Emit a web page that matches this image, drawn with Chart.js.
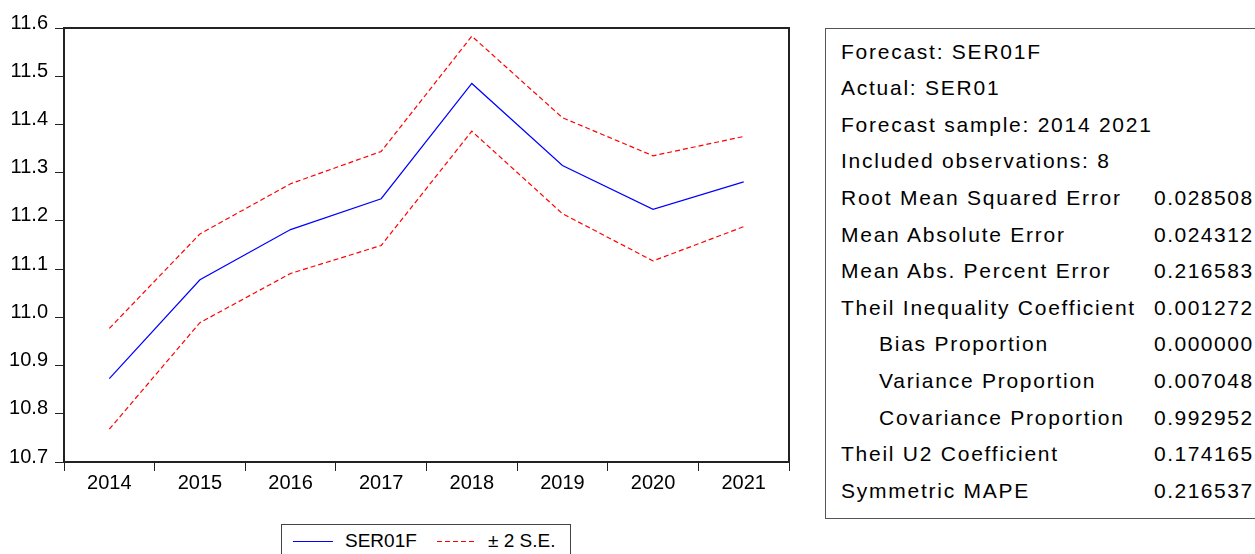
<!DOCTYPE html>
<html>
<head>
<meta charset="utf-8">
<script src="https://cdn.jsdelivr.net/npm/chart.js@4/dist/chart.umd.min.js"></script>
<style>
  html, body { margin: 0; padding: 0; background: #fff; }
  body { width: 1255px; height: 554px; position: relative; overflow: hidden;
         font-family: 'Liberation Sans', Arial, sans-serif; color: #000; }
  #plotWrap { position: absolute; left: 0; top: 0; width: 800px; height: 520px; }
  #legendBox { position: absolute; left: 281px; top: 524px; width: 290px; height: 40px;
               border: 1px solid #444; box-sizing: border-box; font-size: 19px; }
  #legendBox .item { position: absolute; top: 4px; line-height: 24px; }
  #legendBox svg { position: absolute; top: 12px; }
  #statsBox { position: absolute; left: 825px; top: 28px; width: 450px; height: 491px;
              border: 1px solid #555; box-sizing: border-box; font-size: 21px; letter-spacing: 1.75px; }
  #statsBox .row { position: absolute; left: 15px; height: 36.6px; line-height: 36.6px; white-space: nowrap; }
  #statsBox .row.indent { left: 53px; }
  #statsBox .val { position: absolute; left: 328px; height: 36.6px; line-height: 36.6px; letter-spacing: 1.5px; }
</style>
</head>
<body>
<div id="plotWrap"><canvas id="forecastChart" width="800" height="520"></canvas></div>

<div id="legendBox">
  <svg style="left:11px;" width="40" height="8"><line x1="0" y1="4.5" x2="40" y2="4.5" stroke="#0000ff" stroke-width="1"/></svg>
  <span class="item" style="left:63px;">SER01F</span>
  <svg style="left:155px;" width="40" height="8"><line x1="0" y1="4.5" x2="40" y2="4.5" stroke="#ff0000" stroke-width="1" stroke-dasharray="5,3"/></svg>
  <span class="item" style="left:206px;">± 2 S.E.</span>
</div>

<div id="statsBox"></div>

<script>
// Forecast evaluation data
const years = ['2014', '2015', '2016', '2017', '2018', '2019', '2020', '2021'];
const forecast = [10.873, 11.078, 11.182, 11.246, 11.485, 11.315, 11.224, 11.281];
const upperBand = [10.977, 11.173, 11.277, 11.344, 11.583, 11.414, 11.335, 11.375];
const lowerBand = [10.768, 10.989, 11.091, 11.149, 11.386, 11.215, 11.117, 11.188];

const yMin = 10.7;
const yMax = 11.6;
const yStep = 0.1;

// Stats table (label, value, indent)
const statLabels = [
  'Forecast: SER01F',
  'Actual: SER01',
  'Forecast sample: 2014 2021',
  'Included observations: 8',
  'Root Mean Squared Error',
  'Mean Absolute Error',
  'Mean Abs. Percent Error',
  'Theil Inequality Coefficient',
  'Bias Proportion',
  'Variance Proportion',
  'Covariance Proportion',
  'Theil U2 Coefficient',
  'Symmetric MAPE'
];
const statValues = ['', '', '', '', '0.028508', '0.024312', '0.216583', '0.001272',
  '0.000000', '0.007048', '0.992952', '0.174165', '0.216537'];
const statIndented = [8, 9, 10];

// build stats box
const statsBox = document.getElementById('statsBox');
statLabels.forEach((label, i) => {
  const top = 4.5 + i * 36.6;
  const row = document.createElement('div');
  row.className = 'row' + (statIndented.includes(i) ? ' indent' : '');
  row.style.top = top + 'px';
  row.textContent = label;
  statsBox.appendChild(row);
  if (statValues[i]) {
    const v = document.createElement('div');
    v.className = 'val';
    v.style.top = top + 'px';
    v.textContent = statValues[i];
    statsBox.appendChild(v);
  }
});

// box around plot area
const frameBox = {
  id: 'frameBox',
  afterDraw(chart) {
    const { ctx, chartArea: a } = chart;
    ctx.save();
    ctx.strokeStyle = '#222';
    ctx.lineWidth = 2;
    ctx.strokeRect(a.left, a.top, a.right - a.left, a.bottom - a.top);
    ctx.restore();
  }
};

const tickFont = { family: "'Liberation Sans', Arial, sans-serif", size: 20 };

new Chart(document.getElementById('forecastChart').getContext('2d'), {
  type: 'line',
  data: {
    labels: years,
    datasets: [
      {
        label: 'SER01F',
        data: forecast,
        borderColor: '#0000ff',
        borderWidth: 1.2,
        pointRadius: 0,
        tension: 0,
        fill: false
      },
      {
        label: '± 2 S.E.',
        data: upperBand,
        borderColor: '#ff0000',
        borderWidth: 1.2,
        borderDash: [5, 3],
        pointRadius: 0,
        tension: 0,
        fill: false
      },
      {
        label: '± 2 S.E. (lower)',
        data: lowerBand,
        borderColor: '#ff0000',
        borderWidth: 1.2,
        borderDash: [5, 3],
        pointRadius: 0,
        tension: 0,
        fill: false
      }
    ]
  },
  options: {
    responsive: false,
    animation: false,
    devicePixelRatio: 1,
    layout: { padding: { top: 28, right: 11, left: 0, bottom: 0 } },
    scales: {
      x: {
        offset: true,
        grid: { drawOnChartArea: false, drawTicks: true, tickLength: 9, tickColor: '#222', offset: true },
        border: { display: true, color: '#222', width: 1 },
        ticks: { color: '#000', font: tickFont, padding: 0, maxRotation: 0 },
        afterFit: s => { s.height = 58; }
      },
      y: {
        min: yMin,
        max: yMax,
        grid: { drawOnChartArea: false, drawTicks: true, tickLength: 9, tickColor: '#222' },
        border: { display: true, color: '#222', width: 1 },
        ticks: {
          stepSize: yStep,
          color: '#000',
          font: tickFont,
          padding: 7,
          labelOffset: -5,
          callback: v => Number(v).toFixed(1)
        },
        afterFit: s => { s.width = 64; }
      }
    },
    plugins: {
      legend: { display: false },
      tooltip: { enabled: false }
    }
  },
  plugins: [frameBox]
});
</script>
</body>
</html>
